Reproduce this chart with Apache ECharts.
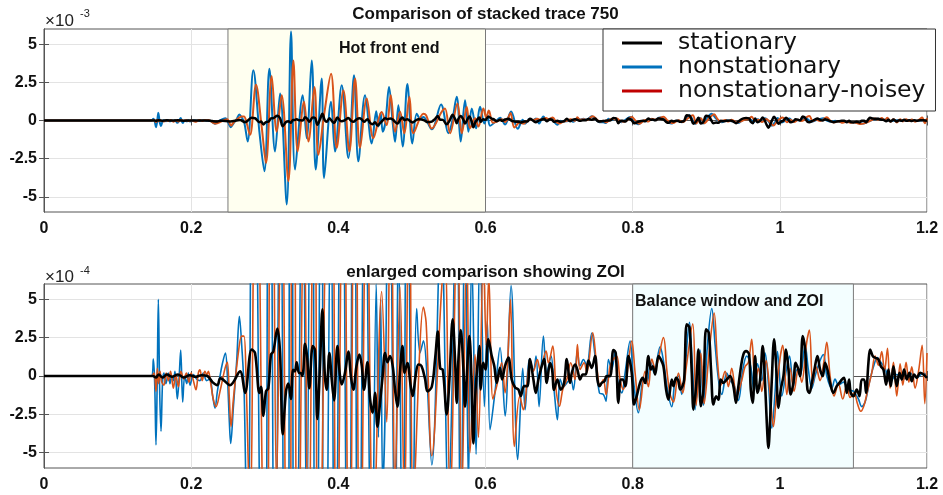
<!DOCTYPE html>
<html><head><meta charset="utf-8">
<script src="https://cdn.jsdelivr.net/npm/echarts@6/dist/echarts.min.js"></script>
<style>html,body{margin:0;padding:0;background:#fff}#c{width:943px;height:495px}</style>
</head><body><div id="c"></div>
<script>
// time axis ticks (s) and amplitude ticks (bottom panel units: 1e-4; top panel labels in 1e-3)
const xTicks = [0, 0.2, 0.4, 0.6, 0.8, 1, 1.2];
const yTicksBottom = [-5, -2.5, 0, 2.5, 5];
const yTicksTop = [-50, -25, 0, 25, 50]; // in 1e-4 units -> shown as 1e-3
const seriesNames = ['stationary', 'nonstationary', 'nonstationary-noisey'];

// [time s, amplitude x1e-4]
const stationary = [
[0,0],[0.148,0],[0.152,-0.1],[0.156,0.1],[0.161,-0.1],[0.167,0.1],[0.174,-0.05],[0.182,0.1],[0.19,-0.1],[0.198,0.05],[0.206,-0.05],[0.214,0.05],[0.222,0],
[0.229,-0.4],[0.2356,-0.6],[0.2395,-0.15],[0.2425,-0.2],[0.2528,-0.6],[0.2664,0.3],[0.2732,-1.1],[0.2822,1.73],[0.2868,1.5],[0.2927,-1.1],[0.295,-0.7],[0.2981,-2.6],[0.3017,-1.0],[0.3049,-0.8],[0.3085,1.4],[0.3117,1.6],[0.3171,3.1],[0.3208,1.5],[0.3244,-3.8],[0.3289,-1.0],[0.3321,-0.5],[0.3355,-1.5],[0.3385,0.4],[0.341,0.3],[0.3434,0.9],[0.3465,0.2],[0.349,0.2],[0.351,0.0],[0.3525,0.4],[0.3547,2.1],[0.3575,1.3],[0.3606,-0.8],[0.3652,1.95],[0.3683,1.7],[0.3715,-2.8],[0.375,0.6],[0.3783,4.35],[0.3815,0.2],[0.3842,-0.9],[0.3878,1.5],[0.391,-0.2],[0.3942,-1.6],[0.3987,1.95],[0.402,0.1],[0.4046,-0.55],[0.409,0.2],[0.4136,1.6],[0.417,0.0],[0.4204,-0.9],[0.4245,0.6],[0.4286,1.4],[0.4318,0.7],[0.4349,-0.9],[0.4395,0.9],[0.4431,-1.5],[0.4467,-2.4],[0.4499,-1.1],[0.4531,-3.3],[0.4567,-1.75],[0.46,-0.1],[0.4635,1.5],[0.4667,0.9],[0.4703,1.3],[0.474,0.6],[0.4771,-0.9],[0.4803,-2.0],[0.484,0.4],[0.4871,1.95],[0.49,0.2],[0.4938,0.85],[0.4985,-0.7],[0.5011,-1.3],[0.505,0.0],[0.5088,0.75],[0.513,0.65],[0.5179,-0.2],[0.5211,-1.0],[0.527,-0.7],[0.5315,1.1],[0.5352,2.9],[0.5384,0.5],
[0.542,0.4],[0.5473,-2.5],[0.551,-0.2],[0.5554,3.7],[0.5586,1.08],[0.5609,-1.75],[0.5632,1.08],[0.5663,3.0],[0.57,0.42],[0.5722,-2.0],[0.5755,0.86],[0.5781,2.6],[0.581,-0.23],[0.5835,-4.4],[0.586,-1.32],[0.5885,0.42],[0.5917,1.95],[0.5935,-0.88],[0.597,0.86],[0.6,0.42],[0.6039,2.4],[0.6085,1.3],[0.612,0.64],[0.6152,-0.45],[0.6197,0.53],[0.6225,-0.23],[0.6265,0.64],[0.6311,1.2],[0.6356,-0.23],[0.6402,-0.75],[0.6447,-0.88],[0.6479,-1.3],[0.6524,-0.66],[0.6569,-0.66],[0.6605,1.1],[0.6651,-0.23],[0.6683,-1.1],[0.6719,-0.23],[0.6764,0.64],[0.6796,1.1],[0.6832,-0.45],[0.6878,0.85],[0.6905,0.42],[0.6932,-0.9],[0.6977,-0.23],[0.7023,-0.9],[0.7068,-0.45],[0.7105,1.1],[0.715,-0.45],[0.7173,0.21],[0.7217,0.75],[0.7249,0.42],[0.7285,-0.23],[0.7322,0.1],[0.7362,0.1],[0.7398,1.0],[0.7444,0.53],[0.7489,1.3],[0.7521,-0.23],[0.7548,-0.66],[0.758,-0.45],[0.7616,-0.34],[0.7648,-0.01],[0.7693,-0.01],[0.7738,1.7],[0.777,1.5],[0.7806,-1.75],[0.7838,-0.23],[0.7865,-0.23],[0.7901,-0.66],[0.7942,1.3],[0.7987,0.21],[0.8019,-1.86],
[0.8055,-1.32],[0.81,-0.45],[0.8137,-0.12],[0.8169,-0.45],[0.8214,1.3],[0.8246,0.42],[0.8273,0.64],[0.8305,0.1],[0.835,1.3],[0.8382,1.08],[0.8418,0.64],[0.8454,-0.88],[0.8486,-1.54],[0.8531,-0.23],[0.8554,-0.66],[0.859,-0.12],[0.8622,-0.34],[0.8645,-0.88],[0.8677,-0.66],[0.87,-0.23],[0.8735,3.37],[0.8772,3.15],[0.8803,0.21],[0.8826,-2.19],[0.8862,-0.66],[0.8894,1.73],[0.8926,-1.97],[0.8962,-0.88],[0.8998,3.04],[0.9034,2.82],[0.9066,0.32],[0.9097,-1.86],[0.9134,-1.32],[0.9165,-1.54],[0.9197,-0.23],[0.9233,-0.45],[0.9278,-0.23],[0.9324,-0.01],[0.9369,-0.66],[0.9405,-1.75],[0.9437,-0.66],[0.9473,0.64],[0.9505,1.41],[0.9541,1.62],[0.9582,1.41],[0.9605,-0.88],[0.9632,-1.75],[0.9664,1.3],[0.9696,-1.1],[0.9732,-0.23],[0.9768,1.95],[0.9791,0.42],[0.9823,-3.06],[0.9845,-4.69],[0.9868,-2.84],[0.9891,-0.23],[0.9922,2.39],[0.995,0.64],[0.9981,-2.08],[1.0013,-0.88],[1.0049,-0.01],[1.0085,1.73],[1.0117,0.42],[1.0148,-1.21],[1.0184,-0.45],[1.0216,0.86],[1.0252,0.42],[1.0275,-0.01],[1.0311,2.6],[1.0343,1.73],[1.0375,-0.88],[1.0402,-1.1],[1.0434,-0.45],[1.047,0.42],[1.0511,1.3],[1.0547,0.42],[1.0583,-0.01],[1.0615,0.86],[1.0647,0.42],[1.0683,-0.45],[1.0728,-1.1],[1.0773,-0.66],[1.081,-0.45],[1.0842,-0.23],[1.0873,-0.12],[1.091,-1.1],[1.0941,-0.23],[1.0964,-1.1],[1.1,-1.32],[1.1045,-0.88],[1.1082,-1.32],[1.1113,-0.23],[1.1145,-0.23],[1.1172,-1.1],[1.1204,0.86],[1.1227,1.73],[1.1263,1.3],[1.1295,1.19],[1.134,1.08],[1.1372,0.64],[1.1408,0.42],[1.1445,-0.56],[1.1476,0.42],[1.1508,-0.66],[1.1544,0.64],[1.1589,-0.66],[1.1626,0.21],[1.1657,-0.23],[1.1689,0.42],[1.1725,-0.23],[1.1761,0.21],[1.1793,-0.34],[1.1825,0.1],[1.1861,-0.12],[1.1906,0.21],[1.1952,0.1],[1.2,-0.12]
];

const nonstationary = [
[0,0],[0.146,0],[0.1486,1.1],[0.1505,-0.6],[0.1522,-4.5],[0.1538,-0.5],[0.1554,5.0],[0.1572,-1.0],[0.159,-3.6],[0.1612,-0.3],[0.163,0.2],[0.1657,-0.5],[0.169,0.2],[0.1712,-0.5],[0.1735,0],[0.1758,-0.3],[0.178,0.3],[0.1812,-1.5],[0.1835,-0.2],[0.1858,1.7],[0.1885,-1.7],[0.1912,0],[0.194,-0.5],[0.1962,0.2],[0.1985,-0.6],[0.203,0.1],[0.2075,-0.2],[0.212,-0.3],[0.2165,0.2],[0.221,-0.3],[0.2255,-0.2],[0.2292,-1.3],[0.2324,-2.1],[0.2356,-1.0],[0.2392,0],[0.2424,0.8],[0.2465,1.5],[0.2492,0],[0.2519,-3.0],[0.2537,-4.4],[0.2574,-2.0],[0.2619,1.0],[0.2655,3.9],[0.2687,2.0],[0.272,-1.0],
[0.2768,-13.8],[0.2845,32.9],[0.2927,-7.3],[0.2995,-33.3],[0.3063,34],[0.314,-20.3],[0.3208,17.7],[0.3299,-55],[0.3357,58.3],[0.3412,-32.2],[0.3516,16.6],[0.357,-11.6],[0.3638,39.4],[0.3693,-32.2],[0.3774,27.5],[0.3806,-37.7],[0.3901,12.3],[0.3955,-20.3],[0.4046,23.1],[0.4136,-24.6],[0.4213,29.6],[0.4272,-26.8],[0.4363,16.6],[0.4454,-15],
[0.4515,6],[0.4545,-4],[0.4575,5],[0.4603,-7.3],[0.464,-1],[0.4689,22],[0.474,-2],[0.4771,-14],[0.4816,10],[0.4875,-17],[0.4938,24],[0.5006,-15],[0.5065,4.4],[0.511,1.5],[0.5156,2.3],[0.527,-5.8],[0.5396,10.5],[0.5496,-8.4],[0.5545,-1],[0.5609,15.5],[0.5663,-13.8],[0.5722,13.3],[0.5768,-7.3],[0.5813,7.9],[0.5872,-5.1],[0.5926,9],[0.5985,-2],[0.6025,3.6],
[0.6062,-3.5],[0.613,-1],[0.6198,1.85],[0.6266,-2.6],[0.6347,5.9],[0.6438,-5.45],[0.6506,0.5],[0.6538,-2.2],[0.6597,1.1],[0.6651,0.4],[0.6687,1.3],[0.6728,-2.0],[0.6787,2.6],[0.6832,0.2],[0.6891,1.3],[0.6932,-0.9],[0.6977,-2.85],[0.7014,-0.2],[0.7059,-0.7],[0.7105,-0.45],[0.7158,-0.2],[0.7195,-0.9],[0.7249,1.6],[0.7285,0.65],[0.7331,1.08],[0.7376,0.65],[0.7444,2.8],[0.7489,1.3],[0.7548,-1.1],[0.7602,-1.2],[0.7639,-1.65],[0.767,1.08],[0.7716,0.42],[0.7761,1.62],[0.7806,-0.66],[0.7852,-1.1],[0.7897,0.21],[0.7965,2.28],[0.801,-0.23],[0.8078,-2.4],
[0.8146,-0.2],[0.8191,-0.5],[0.8246,0.9],[0.8291,0.2],[0.8373,1.9],[0.8418,1.0],[0.8473,-0.9],[0.8531,-2.0],[0.8576,-0.3],[0.8622,0.0],[0.8667,-1.2],[0.8704,0.0],[0.8772,3.5],[0.8808,1.0],[0.8848,-2.2],[0.8916,1.7],[0.8962,-1.9],[0.9016,2.0],[0.9075,4.4],[0.9121,2.0],[0.9165,-0.2],[0.9211,-1.2],[0.9278,0.2],[0.9324,-0.3],[0.9378,-0.6],[0.9437,-1.6],[0.9496,0.4],[0.955,1.3],[0.9605,0.6],[0.965,-1.0],[0.9696,0.8],[0.9755,-0.3],[0.98,1.5],[0.9845,-0.5],[0.9891,-3.4],[0.9936,-1.0],[0.9968,1.6],[1.0027,-1.3],[1.0095,0.6],[1.0131,1.3],[1.0184,-0.7],[1.0229,0.4],[1.0275,0.0],[1.0343,2.0],[1.0388,0.4],[1.0434,-0.8],[1.0479,0.0],[1.0538,0.9],[1.0592,1.4],[1.0638,0.0],[1.0706,-0.8],[1.0751,-0.2],[1.0796,-0.6],[1.0864,-0.4],[1.0932,-0.9],[1.1,-1.0],[1.1068,-1.5],[1.1113,-2.0],[1.1159,-1.7],[1.1218,-0.4],[1.1272,0.6],[1.1326,1.2],[1.1372,0.9],[1.1431,0.5],[1.1499,-0.4],[1.1589,0.1],[1.168,-0.2],[1.177,0.2],[1.1861,-0.1],[1.1952,0.2],[1.2,0.0]
];

const noisey = [
[0,0],[0.146,0],[0.1495,0.2],[0.1522,-1.0],[0.154,0.5],[0.1558,-0.5],[0.1576,0.3],[0.16,-0.4],[0.163,-0.6],[0.166,0.2],[0.169,-0.3],[0.172,0.3],[0.1758,-0.8],[0.179,0.1],[0.1826,-0.7],[0.186,0.3],[0.19,-0.2],[0.1935,0.2],[0.197,-0.4],[0.2,0.2],[0.203,-0.3],[0.2065,-0.9],[0.2098,0.2],[0.212,0.4],[0.215,-0.3],[0.2187,0.3],[0.2212,0.1],[0.2234,0.3],[0.226,-0.3],[0.23,-1.5],[0.2338,-2.0],[0.2392,-1.0],[0.246,0.5],[0.2492,0.9],[0.2519,-1.5],[0.2542,-3.3],[0.2574,-1.5],[0.2641,1.5],[0.2687,2.6],[0.2718,2.6],[0.2745,0],
[0.28,-9.4],[0.2881,23.5],[0.2958,-4],[0.3017,-27.9],[0.3094,29.2],[0.3162,-7.3],[0.323,16.6],[0.3321,-39.8],[0.3389,39.4],[0.3448,-20.3],[0.3534,12.3],[0.3593,-13.8],[0.3675,22],[0.3729,-22.5],[0.381,5],[0.3901,30.7],[0.3978,-18],[0.4069,19.9],[0.415,-20.3],[0.4227,27.5],[0.4295,-18],[0.4386,14.4],[0.4476,-11.6],
[0.4589,5.5],[0.4657,-3],[0.4712,16.6],[0.4771,-7.3],[0.4839,5.8],[0.4897,-8.4],[0.4966,15.5],[0.502,-8.4],[0.5156,4.5],[0.5193,3.5],[0.527,-5.2],[0.5405,5.75],[0.545,7.9],[0.5518,-8.4],[0.5618,11.2],[0.5677,-8.4],[0.5745,9],[0.579,-5],[0.5858,1.4],[0.5904,-4],[0.5971,7.9],[0.601,2],[0.6045,6.5],[0.61,-1.5],
[0.6152,-0.66],[0.622,0.86],[0.6266,-1.1],[0.63,0.86],[0.634,5.0],[0.6392,-4.6],[0.6465,-1.32],[0.6515,-2.2],[0.6569,-0.23],[0.6605,0.86],[0.6651,0.32],[0.6705,1.08],[0.6742,0.42],[0.6823,1.62],[0.6855,0.86],[0.6914,1.95],[0.6959,-0.88],[0.7005,-1.97],[0.705,-0.88],[0.7105,-0.23],[0.7158,0.86],[0.7217,-0.23],[0.7249,2.05],[0.7285,0.42],[0.734,0.86],[0.7376,0.21],[0.7457,2.82],[0.7512,0.64],[0.7557,-0.66],[0.7602,-0.23],[0.7639,-1.21],[0.7693,0.64],[0.7738,1.08],[0.7784,1.3],[0.7829,-0.23],[0.7874,-0.88],[0.792,-0.01],[0.7988,2.28],[0.8033,0.21],[0.8091,-2.2],
[0.8169,0.3],[0.8214,-0.7],[0.826,1.1],[0.8305,0.5],[0.8418,2.5],[0.8464,0.4],[0.8509,-1.2],[0.8554,-1.7],[0.8622,0.2],[0.8681,-1.1],[0.8726,0.5],[0.8817,3.4],[0.8862,-1.9],[0.8926,1.5],[0.8971,-1.8],[0.9044,1.8],[0.9107,4.1],[0.9152,1.0],[0.9197,-0.6],[0.9256,0.3],[0.9301,-0.7],[0.9346,0.5],[0.9414,-1.3],[0.9482,-0.3],[0.9527,0.6],[0.9573,0.9],[0.9618,2.4],[0.9664,-0.4],[0.9709,0.5],[0.9755,-1.0],[0.9813,1.0],[0.9868,-1.2],[0.9913,-3.3],[0.9959,-0.8],[1.0004,1.2],[1.004,2.0],[1.0095,-1.2],[1.014,0.5],[1.0193,-1.0],[1.0252,0.5],[1.0297,-0.4],[1.0365,2.2],[1.0402,3.0],[1.0447,-0.5],[1.0492,0.6],[1.0547,-0.3],[1.0601,1.0],[1.0638,2.2],[1.0683,0.0],[1.0737,-1.3],[1.0796,-0.5],[1.0855,-1.5],[1.091,-0.6],[1.0955,-1.4],[1.1009,-1.1],[1.1054,-1.8],[1.11,-2.3],[1.1145,-1.9],[1.119,-1.0],[1.1249,0.2],[1.1295,1.3],[1.134,0.7],[1.1385,1.6],[1.1422,0.3],[1.1463,1.8],[1.1499,-0.8],[1.1544,0.9],[1.1589,-1.3],[1.1635,0.8],[1.1671,-0.6],[1.1716,0.9],[1.1753,-0.4],[1.1793,0.6],[1.1838,-0.8],[1.1888,0.4],[1.1934,2.0],[1.197,-1.8],[1.2,1.5]
];

const COLORS = { stationary: '#000000', nonstationary: '#0072BD', noisey: '#D95319', legendRed: '#C00000' };
const FONT = '"Liberation Sans", Arial, sans-serif';

const chart = echarts.init(document.getElementById('c'), null, { renderer: 'canvas' });

function xAxisCfg(gridIndex) {
  return {
    type: 'value', gridIndex, min: 0, max: 1.2, interval: 0.2,
    axisLine: { show: true, lineStyle: { color: '#555', width: 1 } },
    axisTick: { show: true, inside: true, length: 5, lineStyle: { color: '#555' } },
    axisLabel: { show: true, margin: 9, color: '#111', fontFamily: FONT, fontWeight: 'bold', fontSize: 16 },
    splitLine: { show: true, lineStyle: { color: '#e3e3e3', width: 1 } }
  };
}
function xMirror(gridIndex) {
  return {
    type: 'value', gridIndex, min: 0, max: 1.2, interval: 0.2, position: 'top',
    axisLine: { show: true, lineStyle: { color: '#555' } },
    axisTick: { show: true, inside: true, length: 5, lineStyle: { color: '#555' } },
    axisLabel: { show: false }, splitLine: { show: false }
  };
}
function yAxisCfg(gridIndex, lim, ticks, fmt) {
  return {
    type: 'value', gridIndex, min: -lim, max: lim,
    axisLine: { show: true, lineStyle: { color: '#555', width: 1 } },
    axisTick: { show: true, inside: true, length: 5, customValues: ticks, lineStyle: { color: '#555' } },
    axisLabel: { show: true, margin: 7, customValues: ticks, color: '#111', fontFamily: FONT, fontWeight: 'bold', fontSize: 16, formatter: fmt },
    splitLine: { show: true, lineStyle: { color: '#e3e3e3', width: 1 } }
  };
}
function yMirror(gridIndex, lim, ticks) {
  return {
    type: 'value', gridIndex, min: -lim, max: lim, position: 'right',
    axisLine: { show: true, lineStyle: { color: '#555' } },
    axisTick: { show: true, inside: true, length: 5, customValues: ticks, lineStyle: { color: '#555' } },
    axisLabel: { show: false, customValues: ticks }, splitLine: { show: false }
  };
}

function lineSeries(name, data, color, width, xi, yi, z, extra) {
  return Object.assign({
    type: 'line', name, data, xAxisIndex: xi, yAxisIndex: yi,
    symbol: 'none', smooth: 0.35, clip: true, z,
    lineStyle: { color, width }, itemStyle: { color },
    emphasis: { disabled: true }, silent: true
  }, extra || {});
}

const option = {
  animation: false,
  backgroundColor: '#fff',
  grid: [
    { left: 44, right: 16, top: 29, height: 183, show: true, borderColor: '#555', borderWidth: 1, containLabel: false },
    { left: 44, right: 16, top: 284, height: 184, show: true, borderColor: '#555', borderWidth: 1, containLabel: false }
  ],
  xAxis: [xAxisCfg(0), xAxisCfg(1), xMirror(0), xMirror(1)],
  yAxis: [
    yAxisCfg(0, 60, yTicksTop, v => String(v / 10)),
    yAxisCfg(1, 6, yTicksBottom, v => String(v)),
    yMirror(0, 60, yTicksTop),
    yMirror(1, 6, yTicksBottom)
  ],
  legend: {
    left: 603, top: 29, orient: 'vertical',
    icon: 'rect',
    itemWidth: 40, itemHeight: 3, itemGap: 0,
    padding: [2, 10, 8, 19],
    backgroundColor: '#fff', borderColor: '#333', borderWidth: 1, borderRadius: 0,
    selectedMode: false,
    textStyle: { fontFamily: '"DejaVu Sans", sans-serif', fontSize: 23.5, color: '#111', lineHeight: 22.5, padding: [0, 0, 0, 11] },
    data: [
      { name: seriesNames[0] },
      { name: seriesNames[1] },
      { name: seriesNames[2], itemStyle: { color: COLORS.legendRed } }
    ]
  },
  series: [
    lineSeries(seriesNames[1], nonstationary, COLORS.nonstationary, 2, 0, 0, 2, {
      markArea: {
        silent: true,
        itemStyle: { color: '#FFFFF0', borderColor: '#7a7a7a', borderWidth: 1 },
        data: [[{ xAxis: 0.25, yAxis: -60 }, { xAxis: 0.6, yAxis: 60 }]]
      }
    }),
    lineSeries(seriesNames[2], noisey, COLORS.noisey, 2, 0, 0, 3),
    lineSeries(seriesNames[0], stationary, COLORS.stationary, 2.5, 0, 0, 4),
    lineSeries(seriesNames[1], nonstationary, COLORS.nonstationary, 1.6, 1, 1, 2, {
      markArea: {
        silent: true,
        itemStyle: { color: '#F3FEFF', borderColor: '#7a7a7a', borderWidth: 1 },
        data: [[{ xAxis: 0.8, yAxis: -6 }, { xAxis: 1.1, yAxis: 6 }]]
      }
    }),
    lineSeries(seriesNames[2], noisey, COLORS.noisey, 1.6, 1, 1, 3),
    lineSeries(seriesNames[0], stationary, COLORS.stationary, 2.6, 1, 1, 4)
  ],
  graphic: [
    { type: 'text', z: 100, silent: true, style: { text: 'Comparison of stacked trace 750', x: 485.5, y: 14, align: 'center', verticalAlign: 'middle', font: 'bold 17px ' + FONT, fill: '#111' } },
    { type: 'text', z: 100, silent: true, style: { text: 'enlarged comparison showing ZOI', x: 485.5, y: 272, align: 'center', verticalAlign: 'middle', font: 'bold 17px ' + FONT, fill: '#111' } },
    { type: 'text', z: 100, silent: true, style: { text: 'Hot front end', x: 339, y: 48.5, align: 'left', verticalAlign: 'middle', font: 'bold 16px ' + FONT, fill: '#111' } },
    { type: 'text', z: 100, silent: true, style: { text: 'Balance window and ZOI', x: 635, y: 302, align: 'left', verticalAlign: 'middle', font: 'bold 16px ' + FONT, fill: '#111' } },
    { type: 'text', z: 100, silent: true, style: { text: '×10', x: 45, y: 21, align: 'left', verticalAlign: 'middle', font: '17px ' + FONT, fill: '#222' } },
    { type: 'text', z: 100, silent: true, style: { text: '-3', x: 80, y: 14, align: 'left', verticalAlign: 'middle', font: '11px ' + FONT, fill: '#222' } },
    { type: 'text', z: 100, silent: true, style: { text: '×10', x: 45, y: 277, align: 'left', verticalAlign: 'middle', font: '17px ' + FONT, fill: '#222' } },
    { type: 'text', z: 100, silent: true, style: { text: '-4', x: 80, y: 271, align: 'left', verticalAlign: 'middle', font: '11px ' + FONT, fill: '#222' } }
  ]
};
chart.setOption(option);
</script>
</body></html>
